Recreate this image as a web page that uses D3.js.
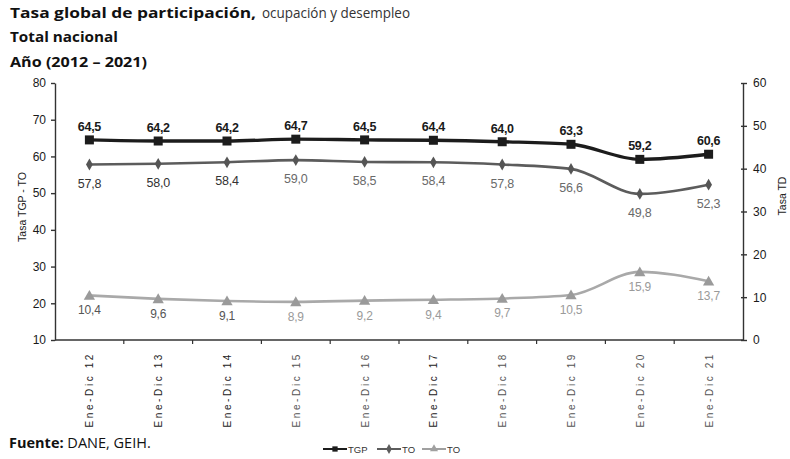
<!DOCTYPE html>
<html><head><meta charset="utf-8">
<script src="https://cdn.jsdelivr.net/npm/d3@7"></script>
<style>body{margin:0;background:#fff}svg{display:block}</style>
</head><body>
<svg id="c" width="790" height="459"></svg>
<script>
const categories = ["Ene-Dic 12","Ene-Dic 13","Ene-Dic 14","Ene-Dic 15","Ene-Dic 16","Ene-Dic 17","Ene-Dic 18","Ene-Dic 19","Ene-Dic 20","Ene-Dic 21"];
const tgp = [64.5,64.2,64.2,64.7,64.5,64.4,64.0,63.3,59.2,60.6];
const to  = [57.8,58.0,58.4,59.0,58.5,58.4,57.8,56.6,49.8,52.3];
const td  = [10.4,9.6,9.1,8.9,9.2,9.4,9.7,10.5,15.9,13.7];
const leftTicks = [10,20,30,40,50,60,70,80];
const rightTicks = [0,10,20,30,40,50,60];
const legendLabels = ["TGP","TO","TO"];

const svg = d3.select("#c");
const L = 55, R = 743, T = 83, B = 340;
const x = d3.scaleBand().domain(categories).range([L, R]);
const yL = d3.scaleLinear().domain([10, 80]).range([B, T]);
const yR = d3.scaleLinear().domain([0, 60]).range([B, T]);
const cx = c => x(c) + x.bandwidth() / 2;
const numFmt = v => d3.format(".1f")(v).replace(".", ",");
const titleFont = "'Open Sans', sans-serif";

// Titles
svg.append("text").attr("x", 10).attr("y", 18).style("font-family", titleFont).style("font-size", "15px")
  .style("font-weight", "bold").attr("fill", "#111").attr("textLength", 246).attr("lengthAdjust", "spacingAndGlyphs")
  .text("Tasa global de participación,");
svg.append("text").attr("x", 262).attr("y", 18).style("font-family", titleFont).style("font-size", "14px")
  .attr("fill", "#333").attr("textLength", 148).attr("lengthAdjust", "spacingAndGlyphs")
  .text("ocupación y desempleo");
svg.append("text").attr("x", 10).attr("y", 42).style("font-family", titleFont).style("font-size", "15px")
  .style("font-weight", "bold").attr("fill", "#111").attr("textLength", 108).attr("lengthAdjust", "spacingAndGlyphs")
  .text("Total nacional");
svg.append("text").attr("x", 10).attr("y", 67).style("font-family", titleFont).style("font-size", "15px")
  .style("font-weight", "bold").attr("fill", "#111").attr("textLength", 137).attr("lengthAdjust", "spacingAndGlyphs")
  .text("Año (2012  – 2021)");

// Axes
const axFont = "'Liberation Sans', Arial, sans-serif";
const gL = svg.append("g").attr("transform", `translate(${L},0)`)
  .call(d3.axisLeft(yL).tickValues(leftTicks).tickSize(4).tickSizeOuter(0).tickPadding(5));
const gR = svg.append("g").attr("transform", `translate(${R},0)`)
  .call(d3.axisRight(yR).tickValues(rightTicks).tickSize(4).tickSizeOuter(0).tickPadding(6));
[gL, gR].forEach(g => {
  g.selectAll("path,line").attr("stroke", "#333").attr("stroke-width", 1.4);
  g.selectAll("text").style("font-family", axFont).style("font-size", "12px").attr("fill", "#1a1a1a");
});
gR.selectAll(".tick line").attr("x1", -2);

// x axis baseline with ticks at band boundaries
const bounds = categories.map(c => x(c)).concat([R]);
svg.append("line").attr("x1", L).attr("x2", R).attr("y1", B).attr("y2", B).attr("stroke", "#333").attr("stroke-width", 1.4);
svg.append("g").selectAll("line").data(bounds.slice(1, -1)).join("line")
  .attr("x1", d => d).attr("x2", d => d).attr("y1", B).attr("y2", B + 4).attr("stroke", "#333").attr("stroke-width", 1.2);

// x labels
svg.append("g").selectAll("text").data(categories).join("text")
  .attr("transform", c => `translate(${cx(c) + 4},${352}) rotate(-90)`)
  .attr("text-anchor", "end")
  .style("font-family", axFont).style("font-size", "10px").style("letter-spacing", "2.6px")
  .attr("fill", (c, i) => i < 3 || i === 5 ? "#222" : "#555")
  .text(c => c);

// Axis titles
svg.append("text").attr("transform", `translate(26,207) rotate(-90)`).attr("text-anchor", "middle")
  .style("font-family", axFont).style("font-size", "10.5px").attr("fill", "#222").text("Tasa TGP - TO");
svg.append("text").attr("transform", `translate(786,196) rotate(-90)`).attr("text-anchor", "middle")
  .style("font-family", axFont).style("font-size", "10.5px").attr("fill", "#222").text("Tasa TD");

// Lines
const curve = d3.curveMonotoneX;
function drawSeries(vals, yS, color, width) {
  const line = d3.line().x((d, i) => cx(categories[i])).y(d => yS(d)).curve(curve);
  svg.append("path").datum(vals).attr("d", line).attr("fill", "none").attr("stroke", color).attr("stroke-width", width);
}
drawSeries(td, yR, "#a9a9a9", 2.6);
drawSeries(to, yL, "#5c5c5c", 2.6);
drawSeries(tgp, yL, "#1c1c1c", 3.4);

// Markers
svg.append("g").selectAll("rect").data(tgp).join("rect")
  .attr("x", (d, i) => cx(categories[i]) - 4.5).attr("y", d => yL(d) - 4.5)
  .attr("width", 9).attr("height", 9).attr("fill", "#1c1c1c");
svg.append("g").selectAll("path").data(to).join("path")
  .attr("transform", (d, i) => `translate(${cx(categories[i])},${yL(d)})`)
  .attr("d", d3.symbol(d3.symbolDiamond, 40)).attr("fill", "#555");
svg.append("g").selectAll("path").data(td).join("path")
  .attr("transform", (d, i) => `translate(${cx(categories[i])},${yR(d) + 1})`)
  .attr("d", d3.symbol(d3.symbolTriangle, 55)).attr("fill", "#9a9a9a");

// Data labels
const lblFont = "'Liberation Sans', Arial, sans-serif";
svg.append("g").selectAll("text").data(tgp).join("text")
  .attr("x", (d, i) => cx(categories[i])).attr("y", d => yL(d) - 9)
  .attr("text-anchor", "middle").style("font-family", lblFont).style("font-size", "12.5px").style("font-weight", "bold")
  .style("letter-spacing", "-0.3px").attr("fill", "#1a1a1a").text(numFmt);
svg.append("g").selectAll("text").data(to).join("text")
  .attr("x", (d, i) => cx(categories[i])).attr("y", d => yL(d) + 23)
  .attr("text-anchor", "middle").style("font-family", lblFont).style("font-size", "12.5px")
  .style("letter-spacing", "-0.2px").attr("fill", (d, i) => i < 3 ? "#333" : "#6a6a6a").text(numFmt);
svg.append("g").selectAll("text").data(td).join("text")
  .attr("x", (d, i) => cx(categories[i])).attr("y", d => yR(d) + 19)
  .attr("text-anchor", "middle").style("font-family", lblFont).style("font-size", "12px")
  .style("letter-spacing", "-0.2px").attr("fill", (d, i) => i < 3 ? "#555" : "#9a9a9a").text(numFmt);

// Source
const src = svg.append("text").attr("x", 9).attr("y", 448).style("font-family", titleFont).style("font-size", "14.5px").attr("fill", "#111");
src.append("tspan").style("font-weight", "bold").text("Fuente: ");
src.append("tspan").text("DANE, GEIH.");

// Legend
const legX = [323, 377, 422];
const legColors = ["#1c1c1c", "#5c5c5c", "#a0a0a0"];
const legSyms = [d3.symbolSquare, d3.symbolDiamond, d3.symbolTriangle];
const lg = svg.append("g");
legendLabels.forEach((lab, i) => {
  const g = lg.append("g").attr("transform", `translate(${legX[i]},449)`);
  g.append("line").attr("x1", 0).attr("x2", 24).attr("stroke", legColors[i]).attr("stroke-width", 2);
  g.append("path").attr("transform", "translate(12,0)").attr("d", d3.symbol(legSyms[i], 28)).attr("fill", legColors[i]);
  g.append("text").attr("x", 25).attr("y", 3.5).style("font-family", lblFont).style("font-size", "9.5px").attr("fill", "#333").text(lab);
});
</script>
</body></html>
